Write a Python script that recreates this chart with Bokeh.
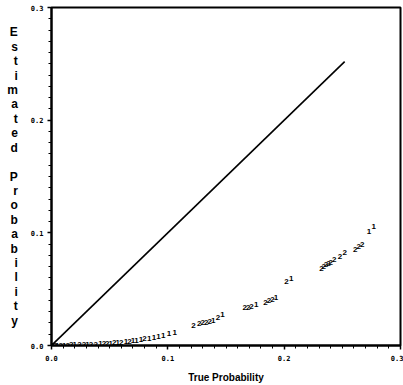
from bokeh.plotting import figure
from bokeh.models import Range1d, FixedTicker, ColumnDataSource
from bokeh.embed import file_html
from bokeh.resources import INLINE

# diagonal reference line (estimated = true)
line_x = [0.0, 0.252]
line_y = [0.0, 0.252]

# plotted observations: true prob, estimated prob, plot symbol (count)
true_p = [0.001, 0.003, 0.005, 0.008, 0.011, 0.014, 0.017, 0.020, 0.024, 0.028,
          0.031, 0.034, 0.038, 0.042, 0.045, 0.048, 0.051, 0.054, 0.057, 0.060,
          0.064, 0.067, 0.070, 0.073, 0.077, 0.080, 0.084, 0.088, 0.092, 0.096,
          0.101, 0.106,
          0.122, 0.127, 0.130, 0.133, 0.136, 0.139, 0.143, 0.147,
          0.166, 0.169, 0.172, 0.176,
          0.184, 0.187, 0.190, 0.193,
          0.202, 0.206,
          0.232, 0.234, 0.236, 0.238, 0.240, 0.243, 0.248, 0.252,
          0.261, 0.264, 0.267,
          0.273, 0.277]
est_p = [0.0000, 0.0001, 0.0002, 0.0002, 0.0003, 0.0004, 0.0005, 0.0006, 0.0007, 0.0008,
         0.0009, 0.0010, 0.0012, 0.0014, 0.0016, 0.0018, 0.0020, 0.0023, 0.0026, 0.0030,
         0.0034, 0.0038, 0.0042, 0.0047, 0.0053, 0.0059, 0.0066, 0.0074, 0.0083, 0.0093,
         0.0108, 0.0118,
         0.0180, 0.0192, 0.0200, 0.0207, 0.0214, 0.0222, 0.0252, 0.0272,
         0.0335, 0.0340, 0.0347, 0.0365,
         0.0380, 0.0395, 0.0410, 0.0430,
         0.0570, 0.0595,
         0.0680, 0.0700, 0.0715, 0.0725, 0.0740, 0.0760, 0.0790, 0.0825,
         0.0855, 0.0875, 0.0895,
         0.1015, 0.1060]
symbol = ["1", "2", "1", "2", "1", "2", "2", "1", "2", "2",
          "1", "2", "2", "1", "2", "2", "1", "2", "1", "2",
          "1", "2", "1", "1", "1", "2", "1", "1", "1", "1",
          "1", "1",
          "2", "2", "2", "2", "2", "1", "2", "1",
          "2", "2", "2", "1",
          "2", "2", "2", "1",
          "2", "1",
          "2", "2", "2", "2", "2", "2", "2", "2",
          "2", "2", "2",
          "1", "1"]

x_ticks = [0.0, 0.1, 0.2, 0.3]
y_ticks = [0.0, 0.1, 0.2, 0.3]
minor = [0.01, 0.02, 0.03, 0.04, 0.05, 0.06, 0.07, 0.08, 0.09,
         0.11, 0.12, 0.13, 0.14, 0.15, 0.16, 0.17, 0.18, 0.19,
         0.21, 0.22, 0.23, 0.24, 0.25, 0.26, 0.27, 0.28, 0.29]
x_title = "True Probability"
y_title = "Estimated Probability"

p = figure(width=403, height=385, output_backend="svg", toolbar_location=None,
           x_range=Range1d(0, 0.3), y_range=Range1d(0, 0.3),
           min_border_left=51, min_border_right=3, min_border_top=7, min_border_bottom=40)
p.background_fill_color = "white"
p.border_fill_color = "white"
p.grid.visible = False
p.outline_line_color = "black"
p.outline_line_width = 2

for ax, ticks in ((p.xaxis, x_ticks), (p.yaxis, y_ticks)):
    ax.ticker = FixedTicker(ticks=ticks, minor_ticks=minor)
    ax.axis_line_color = "black"
    ax.axis_line_width = 2
    ax.major_tick_line_width = 1.5
    ax.major_tick_line_color = "black"
    ax.major_tick_out = 4
    ax.major_tick_in = 0
    ax.minor_tick_line_color = "black"
    ax.minor_tick_line_width = 1
    ax.minor_tick_out = 3
    ax.minor_tick_in = 0
    ax.major_label_text_font = "DejaVu Sans Mono"
    ax.major_label_text_font_size = "7px"
    ax.major_label_text_font_style = "bold"
    ax.major_label_text_color = "black"
    ax.major_label_overrides = {t: f"{t:.1f}" for t in ticks}

p.xaxis.major_label_standoff = 5
p.yaxis.major_label_standoff = 4
p.xaxis.axis_label = x_title
p.xaxis.axis_label_text_font = "Liberation Sans"
p.xaxis.axis_label_text_font_size = "10px"
p.xaxis.axis_label_text_font_style = "bold"
p.xaxis.axis_label_text_color = "black"
p.xaxis.axis_label_standoff = 8

# stacked vertical y-axis title, one letter per line, blank line between words
p.yaxis.axis_label = "\n\n".join("\n".join(word) for word in y_title.split(" "))
p.yaxis.axis_label_orientation = "horizontal"
p.yaxis.axis_label_text_font = "Liberation Sans"
p.yaxis.axis_label_text_font_size = "12px"
p.yaxis.axis_label_text_font_style = "bold"
p.yaxis.axis_label_text_color = "black"
p.yaxis.axis_label_text_line_height = 1.03
p.yaxis.axis_label_standoff = 10

p.line(line_x, line_y, line_color="black", line_width=1.6)

src = ColumnDataSource(dict(x=true_p, y=est_p, s=symbol))
p.text(x="x", y="y", text="s", source=src, text_font_size="8px",
       text_font_style="bold", text_color="black",
       text_align="center", text_baseline="middle")

open("out.html", "w").write(file_html(p, INLINE))
